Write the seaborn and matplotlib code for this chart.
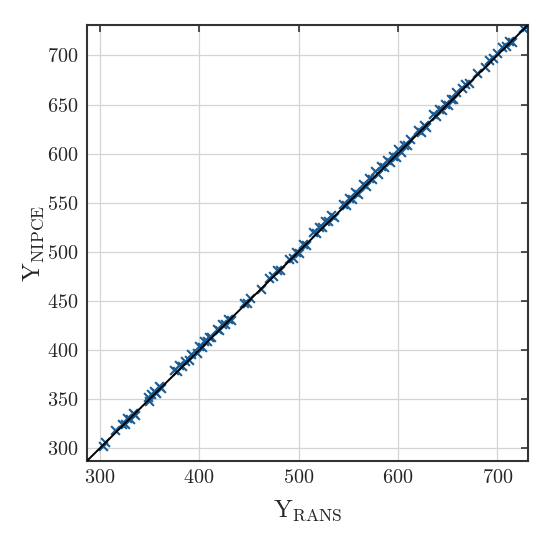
import matplotlib
matplotlib.use("Agg")
import matplotlib.pyplot as plt
import seaborn as sns
import pandas as pd

y_rans = [303, 305, 315, 322, 325, 327, 330, 333, 335,
          348, 350, 352, 355, 357, 360, 362,
          375, 378, 380, 383, 386, 390, 392,
          398, 400, 403, 405, 408, 410, 412,
          418, 420, 423, 426, 429, 432,
          445, 448, 451, 462, 470, 474, 478, 481,
          490, 494, 497, 500, 505, 508,
          515, 518, 521, 524, 527, 530, 533, 536,
          545, 548, 551, 554, 557, 560,
          565, 568, 571, 574, 577, 580, 583, 586, 589, 592, 595, 598,
          600, 603, 606, 609, 612,
          620, 623, 626, 628,
          635, 638, 641, 644, 647, 650, 653, 656, 659,
          665, 668, 672,
          680, 688, 692, 696, 700,
          705, 709, 712, 715, 726, 729]

y_nipce = [302, 306, 319, 325, 325, 331, 330, 336, 334,
           352, 348, 355, 358, 356, 363, 361,
           380, 379, 385, 384, 389, 390, 396,
           397, 404, 403, 409, 409, 413, 413,
           421, 420, 427, 426, 432, 431,
           448, 448, 453, 462, 473, 475, 481, 481,
           493, 494, 500, 499, 508, 507,
           520, 519, 525, 525, 531, 531, 537, 535,
           549, 548, 555, 554, 561, 559,
           569, 567, 575, 574, 582, 579, 587, 586, 593, 591, 598, 597,
           605, 602, 609, 609, 615,
           624, 622, 629, 627,
           640, 638, 645, 644, 651, 650, 656, 656, 663,
           667, 671, 672,
           682, 688, 695, 697, 702,
           709, 710, 715, 714, 728, 729]

x_ticks = [300, 400, 500, 600, 700]
y_ticks = [300, 350, 400, 450, 500, 550, 600, 650, 700]
lims = [287, 731]

df = pd.DataFrame({"rans": y_rans, "nipce": y_nipce})

sns.set_style("white")
plt.rcParams["font.family"] = ["cmr10", "DejaVu Serif"]
plt.rcParams["mathtext.fontset"] = "cm"
plt.rcParams["axes.formatter.use_mathtext"] = True

fig = plt.figure(figsize=(5.5, 5.39), dpi=100)
ax = fig.add_axes([0.158, 0.1447, 0.802, 0.809])

ax.grid(True, color="#d4d4d4", linewidth=0.9, zorder=0)
ax.set_axisbelow(True)

sns.scatterplot(data=df, x="rans", y="nipce", marker="x", color="#1a5c94",
                s=40, linewidth=1.5, ax=ax, zorder=2)
ax.plot(lims, lims, color="black", linewidth=1.4, zorder=3)

ax.set_xlim(lims)
ax.set_ylim(lims)
ax.set_xticks(x_ticks)
ax.set_yticks(y_ticks)
ax.tick_params(direction="in", top=True, right=True, length=5, width=1.2,
               labelsize=14.5, color="#333333", pad=6)
for sp in ax.spines.values():
    sp.set_color("#333333")
    sp.set_linewidth(1.5)

ax.set_xlabel(r"$\mathrm{Y}_{\mathrm{RANS}}$", fontsize=18, labelpad=8)
ax.set_ylabel(r"$\mathrm{Y}_{\mathrm{NIPCE}}$", fontsize=18, labelpad=1)

fig.savefig("out.png", dpi=100)
